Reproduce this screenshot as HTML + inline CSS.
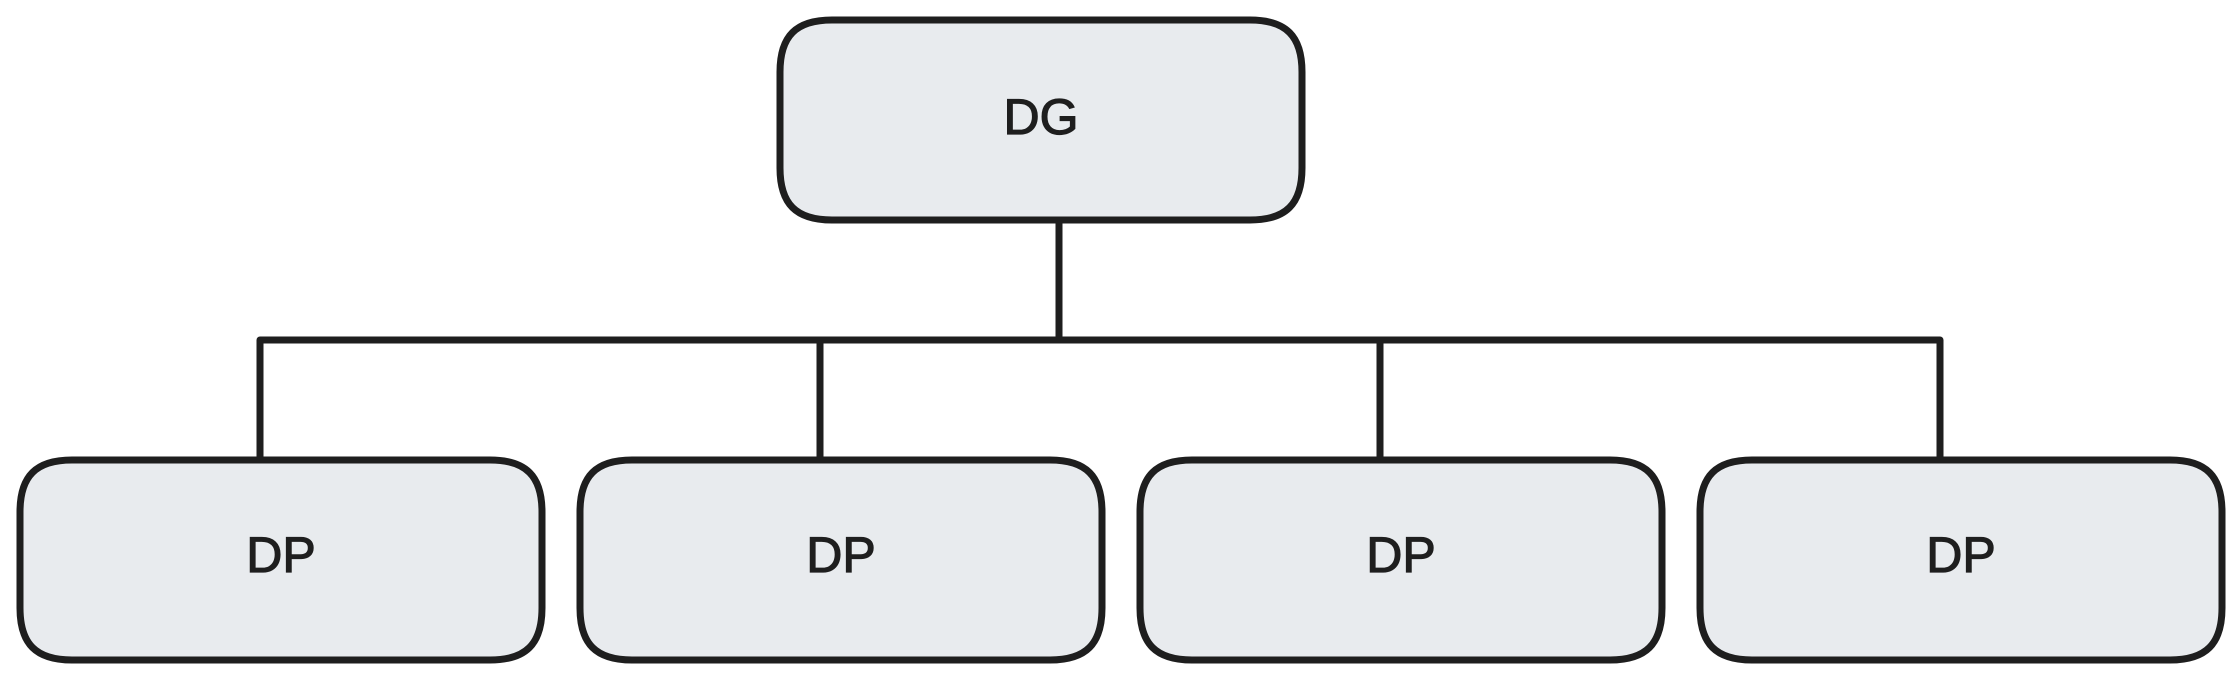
<!DOCTYPE html>
<html><head><meta charset="utf-8"><style>
html,body{margin:0;padding:0;background:#fff;}
svg{display:block;}
text{font-family:"Liberation Sans",sans-serif;font-size:50px;fill:#1e1e1e;stroke:#1e1e1e;stroke-width:1.2px;text-anchor:middle;dominant-baseline:central;}
</style></head><body>
<svg width="2240" height="680" viewBox="0 0 2240 680" xmlns="http://www.w3.org/2000/svg">
<g fill="none" stroke="#1e1e1e" stroke-width="7" stroke-linejoin="round">
<path d="M1059 222 V340"/>
<path d="M260 459 V340 H1940 V459"/>
<path d="M820 340 V459"/>
<path d="M1380 340 V459"/>
</g>
<g fill="#e8ebee" stroke="#1e1e1e" stroke-width="7">
<path d="M832 20 h418 c36 0 52 16 52 52 v96 c0 36 -16 52 -52 52 h-418 c-36 0 -52 -16 -52 -52 v-96 c0 -36 16 -52 52 -52 z"/>
<path d="M72 460 h418 c36 0 52 16 52 52 v96 c0 36 -16 52 -52 52 h-418 c-36 0 -52 -16 -52 -52 v-96 c0 -36 16 -52 52 -52 z"/>
<path d="M632 460 h418 c36 0 52 16 52 52 v96 c0 36 -16 52 -52 52 h-418 c-36 0 -52 -16 -52 -52 v-96 c0 -36 16 -52 52 -52 z"/>
<path d="M1192 460 h418 c36 0 52 16 52 52 v96 c0 36 -16 52 -52 52 h-418 c-36 0 -52 -16 -52 -52 v-96 c0 -36 16 -52 52 -52 z"/>
<path d="M1752 460 h418 c36 0 52 16 52 52 v96 c0 36 -16 52 -52 52 h-418 c-36 0 -52 -16 -52 -52 v-96 c0 -36 16 -52 52 -52 z"/>
</g>
<text x="1041" y="117">DG</text>
<text x="281" y="555">DP</text>
<text x="841" y="555">DP</text>
<text x="1401" y="555">DP</text>
<text x="1961" y="555">DP</text>
</svg>
</body></html>
